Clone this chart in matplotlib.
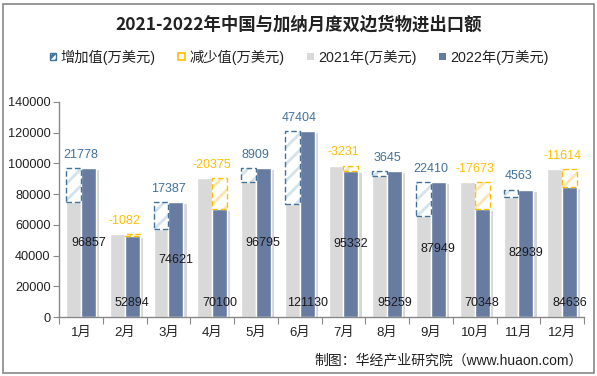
import matplotlib
matplotlib.use("Agg")
import matplotlib.pyplot as plt
import matplotlib.patheffects as pe
from matplotlib.patches import Rectangle
import numpy as np

plt.rcParams['font.family'] = ['Liberation Sans', 'Noto Sans CJK SC', 'DejaVu Sans']
plt.rcParams['hatch.linewidth'] = 2.0

months = ['1月', '2月', '3月', '4月', '5月', '6月', '7月', '8月', '9月', '10月', '11月', '12月']
v2021 = [75079, 53976, 57234, 90475, 87886, 73726, 98563, 91614, 65539, 88021, 78376, 96250]
v2022 = [96857, 52894, 74621, 70100, 96795, 121130, 95332, 95259, 87949, 70348, 82939, 84636]
change = [21778, -1082, 17387, -20375, 8909, 47404, -3231, 3645, 22410, -17673, 4563, -11614]

title = '2021-2022年中国与加纳月度双边货物进出口额'
leg_labels = ['增加值(万美元)', '减少值(万美元)', '2021年(万美元)', '2022年(万美元)']
source = '制图：华经产业研究院（www.huaon.com）'

c21 = '#D9D9D9'
c22 = '#687CA2'
inc_edge = '#41729C'
inc_hatch = '#D3E2EC'
dec_edge = '#FFC000'
dec_hatch = '#FCE6B0'

fig = plt.figure(figsize=(5.97, 3.76), dpi=100)
ax = fig.add_axes([59/597, 1-317/376, 525/597, 215/376])

x = np.arange(len(months))
w = 0.34
off = 0.17
shadow = [pe.SimplePatchShadow(offset=(2.5, -1.5), shadow_rgbFace='#999999', alpha=0.4), pe.Normal()]

b1 = ax.bar(x - off, v2021, width=w, color=c21, edgecolor='white', linewidth=1.0, zorder=2)
b2 = ax.bar(x + off, v2022, width=w, color=c22, edgecolor='white', linewidth=1.0, zorder=2)
for b in list(b1) + list(b2):
    b.set_path_effects(shadow)

for i in range(len(months)):
    a, b, d = v2021[i], v2022[i], change[i]
    if d >= 0:
        xi = x[i] - off
        ax.bar(xi, b - a, bottom=a, width=w, color='white', edgecolor=inc_hatch, hatch='//', linewidth=0, zorder=3)
        ax.bar(xi, b - a, bottom=a, width=w, fill=False, edgecolor=inc_edge, linestyle=(0, (4, 2)), linewidth=1.0, zorder=4)
        col = inc_edge
    else:
        xi = x[i] + off
        ax.bar(xi, a - b, bottom=b, width=w, color='white', edgecolor=dec_hatch, hatch='//', linewidth=0, zorder=3)
        ax.bar(xi, a - b, bottom=b, width=w, fill=False, edgecolor=dec_edge, linestyle=(0, (4, 2)), linewidth=1.0, zorder=4)
        col = dec_edge
    top = max(a, b)
    ax.annotate(str(d), (x[i], top), xytext=(0, 9.5), textcoords='offset points',
                ha='center', va='center', color=col, fontsize=9, zorder=6, annotation_clip=False)
    if i % 2 == 0:
        yl = b / 2
    else:
        yl = 9100
    ax.text(x[i] + off, yl, str(b), ha='center', va='center', fontsize=9, color='#1a1a1a', zorder=6)

ax.set_xlim(-0.5, len(months) - 0.5)
ax.set_ylim(0, 140000)
ax.set_yticks(np.arange(0, 140001, 20000))
ax.set_yticklabels([str(v) for v in range(0, 140001, 20000)], fontsize=9.2, color='#222222')
ax.set_xticks(np.arange(-0.5, len(months), 1.0))
ax.set_xticklabels([])
ax.set_xticks(x, minor=True)
ax.set_xticklabels(months, minor=True, fontsize=9.5, color='#222222')
ax.tick_params(axis='x', which='major', length=5, color='#888888', direction='out')
ax.tick_params(axis='x', which='minor', length=0, pad=7)
ax.tick_params(axis='y', length=4, color='#888888', direction='out', pad=2)
for s in ['top', 'right']:
    ax.spines[s].set_visible(False)
for s in ['left', 'bottom']:
    ax.spines[s].set_color('#888888')
    ax.spines[s].set_linewidth(1.0)

fig.text(298.5/597, 1-25/376, title, ha='center', va='center', fontsize=12.5, fontweight='bold',
         family=['Noto Sans CJK SC'], color='#222222')

handles = [
    Rectangle((0, 0), 1, 1, facecolor='white', edgecolor=inc_edge, hatch='////', linewidth=1.0),
    Rectangle((0, 0), 1, 1, facecolor='white', edgecolor=dec_edge, linewidth=1.2),
    Rectangle((0, 0), 1, 1, facecolor=c21, edgecolor='none'),
    Rectangle((0, 0), 1, 1, facecolor=c22, edgecolor='none'),
]
leg = fig.legend(handles, leg_labels, loc='center', bbox_to_anchor=(299/597, 1-57/376), ncol=4,
                 frameon=False, handlelength=0.45, handleheight=0.45,
                 handletextpad=0.3, columnspacing=1.6,
                 prop={'family': ['Liberation Sans', 'Noto Sans CJK SC'], 'size': 10.3})
for t in leg.get_texts():
    t.set_color('#222222')

fig.text(583/597, 1-360/376, source, ha='right', va='center', fontsize=10, color='#222222')

fig.add_artist(Rectangle((3/597, 3/376), 591/597, 369/376, transform=fig.transFigure,
                         fill=False, edgecolor='#888888', linewidth=1.2))

fig.savefig('out.png', dpi=100)
